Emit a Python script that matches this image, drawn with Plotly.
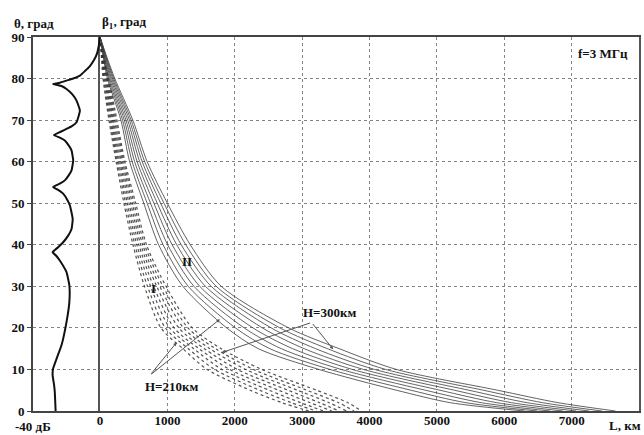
import plotly.graph_objects as go

# ---- data -------------------------------------------------------------
theta_grid = [90, 85, 80, 70, 60, 50, 40, 30, 20, 15, 10, 5, 2, 0]

# Band I: L (km) per curve, inner (H=210 km) -> outer (H=300 km)
band1_heights = [210, 223, 236, 249, 261, 274, 287, 300]
band1_L = [
    [0, 22, 45, 133, 240, 355, 490, 660, 905, 1230, 1590, 2230, 2700, 3100],
    [0, 28, 57, 150, 258, 380, 518, 705, 970, 1310, 1700, 2370, 2840, 3210],
    [0, 34, 69, 167, 276, 405, 547, 750, 1035, 1390, 1810, 2510, 2980, 3320],
    [0, 40, 81, 184, 295, 430, 576, 796, 1100, 1470, 1925, 2650, 3120, 3440],
    [0, 46, 93, 200, 314, 455, 605, 842, 1170, 1550, 2040, 2790, 3260, 3550],
    [0, 51, 105, 217, 333, 480, 633, 888, 1240, 1630, 2160, 2930, 3400, 3660],
    [0, 56, 117, 234, 352, 505, 662, 934, 1305, 1715, 2280, 3070, 3540, 3770],
    [0, 62, 130, 251, 370, 530, 690, 980, 1370, 1800, 2400, 3215, 3680, 3880],
]

# Band II
band2_heights = [210, 223, 236, 249, 261, 274, 287, 300]
band2_L = [
    [0, 50, 110, 310, 440, 650, 870, 1230, 1880, 2350, 3250, 4400, 5200, 6300],
    [0, 58, 126, 335, 477, 700, 937, 1310, 2010, 2520, 3415, 4615, 5430, 6490],
    [0, 66, 141, 360, 514, 750, 1004, 1395, 2140, 2690, 3580, 4830, 5660, 6680],
    [0, 74, 157, 385, 551, 800, 1071, 1480, 2270, 2860, 3745, 5045, 5890, 6870],
    [0, 82, 173, 411, 589, 850, 1139, 1565, 2410, 3030, 3910, 5260, 6110, 7070],
    [0, 90, 189, 437, 626, 900, 1206, 1650, 2540, 3200, 4075, 5475, 6340, 7260],
    [0, 98, 204, 462, 663, 950, 1273, 1725, 2670, 3375, 4240, 5690, 6570, 7450],
    [0, 106, 220, 487, 700, 1000, 1340, 1800, 2800, 3550, 4400, 5900, 6800, 7650],
]

# Antenna pattern (dB) vs elevation angle
pattern_theta = [90, 88, 86, 84.5, 83, 81.8, 80.7, 80, 79.5, 79, 78.7, 78.2, 77.5, 76.2,
                 74.7, 72.3, 69.5, 68.5, 67.9, 67.2, 66.4, 65.8, 65.1, 63.8, 62.7,
                 60.3, 57.9, 56.7, 55.5, 54.7, 53.9, 53.2, 52.3, 50.8, 49.5, 46.2,
                 43.8, 42.2, 40.6, 39.4, 38.2, 37.3, 36.2, 33.4, 30.2, 26.2, 21.4,
                 15.8, 12.5, 10.2, 8.6, 6.5, 4.6, 2, 0]
pattern_db = [0, -0.7, -1.8, -3.5, -6, -9, -12, -16, -20, -24, -28, -23, -20, -16.5,
              -14, -12, -14, -17, -20, -23.5, -27.5, -24, -21, -18.5, -17,
              -16, -17, -18.7, -21, -24, -28, -25, -22, -19.5, -18, -16.3,
              -17, -19, -22, -25, -28.3, -26, -24, -20, -18.3, -18.3, -20,
              -23, -26, -28, -28.3, -27.5, -27, -26.7, -26.5]

y_ticks = [0, 10, 20, 30, 40, 50, 60, 70, 80, 90]
x_ticks = [0, 1000, 2000, 3000, 4000, 5000, 6000, 7000]
x_ticklabels = ["0", "1000", "2000", "3000", "4000", "5000", "6000", "7000"]

# ---- figure -----------------------------------------------------------
FONT = "Liberation Serif"
bold = dict(family=FONT, size=13, color="#111", weight="bold")
grid_col = "rgba(110,110,110,0.85)"
dom = 67 / 606

fig = go.Figure()

for h, L in zip(band1_heights, band1_L):
    fig.add_trace(go.Scatter(x=L, y=theta_grid, mode="lines", name=f"I H={h}",
                             line=dict(color="rgba(40,40,40,0.8)", width=1.2,
                                       dash="dot", shape="spline", smoothing=0.8),
                             xaxis="x", yaxis="y", showlegend=False))
for h, L in zip(band2_heights, band2_L):
    fig.add_trace(go.Scatter(x=L, y=theta_grid, mode="lines", name=f"II H={h}",
                             line=dict(color="rgba(60,60,60,0.8)", width=1,
                                       shape="spline", smoothing=0.8),
                             xaxis="x", yaxis="y", showlegend=False))

fig.add_trace(go.Scatter(x=pattern_db, y=pattern_theta, mode="lines",
                         line=dict(color="#111", width=2, shape="spline", smoothing=0.4),
                         xaxis="x2", yaxis="y2", showlegend=False))

fig.update_layout(
    width=644, height=435,
    margin=dict(l=33, r=5, t=37, b=24),
    paper_bgcolor="white", plot_bgcolor="white",
    xaxis=dict(domain=[dom, 1], range=[0, 8000], tickvals=x_ticks,
               ticktext=x_ticklabels, tickfont=bold, showgrid=True,
               gridcolor=grid_col, griddash="dot", gridwidth=1, zeroline=False,
               showline=True, linecolor="#444", linewidth=2, mirror=True,
               ticks="", ticklabelstandoff=-4, automargin=False),
    yaxis=dict(domain=[0, 1], range=[0, 90], tickvals=y_ticks,
               showticklabels=False, showgrid=True, gridcolor=grid_col,
               griddash="dot", zeroline=False, showline=True, linecolor="#555",
               linewidth=2, mirror=True, anchor="x", automargin=False),
    xaxis2=dict(domain=[0, dom], range=[-40, 0], showticklabels=False,
                showgrid=False, zeroline=False, showline=True, linecolor="#444",
                linewidth=2, mirror=True, anchor="y2", ticks="", automargin=False),
    yaxis2=dict(domain=[0, 1], range=[0, 90], tickvals=y_ticks, tickfont=bold,
                showgrid=True, gridcolor=grid_col, griddash="dot",
                zeroline=False, showline=True, linecolor="#444", linewidth=2,
                anchor="x2", ticks="outside", ticklen=4, tickcolor="#444",
                automargin=False),
)

ann = [
    dict(text="θ, град", xref="paper", yref="paper", x=-0.034, y=1.012,
         xanchor="left", yanchor="bottom", showarrow=False, font=bold),
    dict(text="β<sub>1</sub>, град", x=0, y=90, xref="x", yref="y",
         xanchor="left", yanchor="bottom", yshift=4, showarrow=False, font=bold),
    dict(text="f=3 МГц", xref="paper", yref="y", x=0.985, y=86,
         xanchor="right", yanchor="middle", showarrow=False, font=bold),
    dict(text="-40 дБ", x=-40, y=0, xref="x2", yref="y2", xanchor="center",
         yanchor="top", yshift=-6, showarrow=False, font=bold),
    dict(text="L, км", xref="paper", yref="paper", x=1, y=0,
         xanchor="right", yanchor="top", xshift=4, yshift=-5, showarrow=False, font=bold),
    dict(text="I", x=790, y=29.5, xref="x", yref="y", showarrow=False, font=bold),
    dict(text="II", x=1290, y=36, xref="x", yref="y", showarrow=False, font=bold),
    dict(text="H=300км", x=3420, y=23.8, xref="x", yref="y", showarrow=False, font=bold),
    dict(text="H=210км", x=1070, y=5.9, xref="x", yref="y", showarrow=False, font=bold),
]
arrow_style = dict(showarrow=True, arrowhead=2, arrowsize=0.7, arrowwidth=1,
                   arrowcolor="#555", axref="x", ayref="y", xref="x", yref="y", text="")
ann += [
    dict(x=1806, y=14.05, ax=3140, ay=21.3, **arrow_style),
    dict(x=3461, y=14.85, ax=3140, ay=21.3, **arrow_style),
    dict(x=1780, y=22.1, ax=742, ay=8.6, **arrow_style),
    dict(x=1138, y=16.5, ax=742, ay=8.6, **arrow_style),
]
fig.update_layout(annotations=ann)

fig.write_html("out.html", config={"displayModeBar": False},
               post_script="document.body.style.margin='0';document.body.style.padding='0';")
